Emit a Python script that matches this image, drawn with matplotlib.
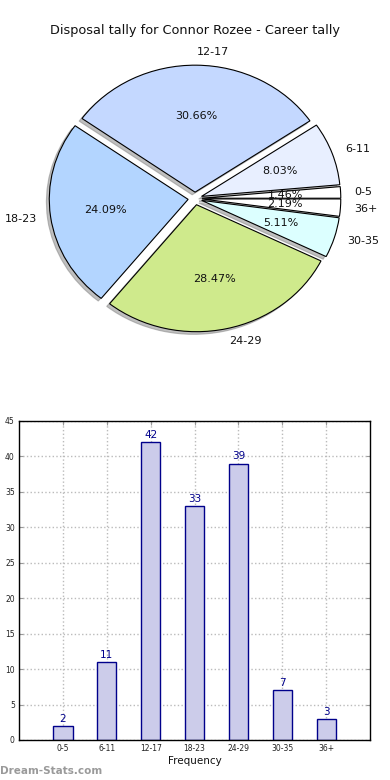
import matplotlib
matplotlib.use("Agg")
import matplotlib.pyplot as plt
import numpy as np

categories = ["0-5", "6-11", "12-17", "18-23", "24-29", "30-35", "36+"]
counts = [2, 11, 42, 33, 39, 7, 3]
pie_colors = ["#ffffff", "#e8efff", "#c4d8ff", "#b3d5ff", "#cfea8c", "#dcffff", "#ffffff"]
title = "Disposal tally for Connor Rozee - Career tally"
xlabel = "Frequency"
yticks = list(range(0, 50, 5))

fig = plt.figure(figsize=(3.9, 7.8), dpi=100)
fig.patch.set_facecolor("white")

# Pie
axp = fig.add_axes([0.055, 0.542, 0.89, 0.407])
wedges, texts, autotexts = axp.pie(
    counts, labels=categories, colors=pie_colors, explode=[0.05] * len(counts),
    autopct="%1.2f%%", shadow={"ox": -0.015, "oy": -0.015, "color": "#808080"},
    startangle=0, counterclock=True,
    labeldistance=1.1, pctdistance=0.6,
    wedgeprops=dict(edgecolor="black", linewidth=0.8),
    textprops=dict(fontsize=8, color="#111111"))
axp.set_aspect("auto")
axp.set_xlim(-1.25, 1.25)
axp.set_ylim(-1.25, 1.25)
fig.text(0.5, 0.961, title, ha="center", va="center", fontsize=9.3, color="#111111")

# Bar
axb = fig.add_axes([0.0487, 0.0513, 0.9003, 0.409])
x = np.arange(len(categories))
bars = axb.bar(x, counts, width=0.44, color="#ccccea", edgecolor="#00008b", linewidth=1.0, zorder=2)
for xi, c in zip(x, counts):
    axb.text(xi, c + 0.3, str(c), ha="center", va="bottom", fontsize=7.5, color="#00008b", zorder=3)
axb.set_xlim(-1, 7)
axb.set_ylim(0, 45)
axb.set_xticks(x)
axb.set_xticklabels(categories)
axb.set_yticks(yticks)
axb.tick_params(axis="both", labelsize=5.5, direction="in", length=3, color="#999999",
                top=True, right=True, pad=3, labelcolor="#222222")
axb.grid(True, linestyle=":", color="#bbbbbb", linewidth=1.0, zorder=0)
axb.set_axisbelow(True)
for s in axb.spines.values():
    s.set_linewidth(1.0)
    s.set_color("black")
axb.set_xlabel(xlabel, fontsize=7.5, labelpad=2, color="#111111")

fig.text(0.0, 0.012, "Dream-Stats.com", ha="left", va="center", fontsize=7.5,
         color="#9a9a9a", fontweight="bold")

fig.savefig("out.png", dpi=100)
